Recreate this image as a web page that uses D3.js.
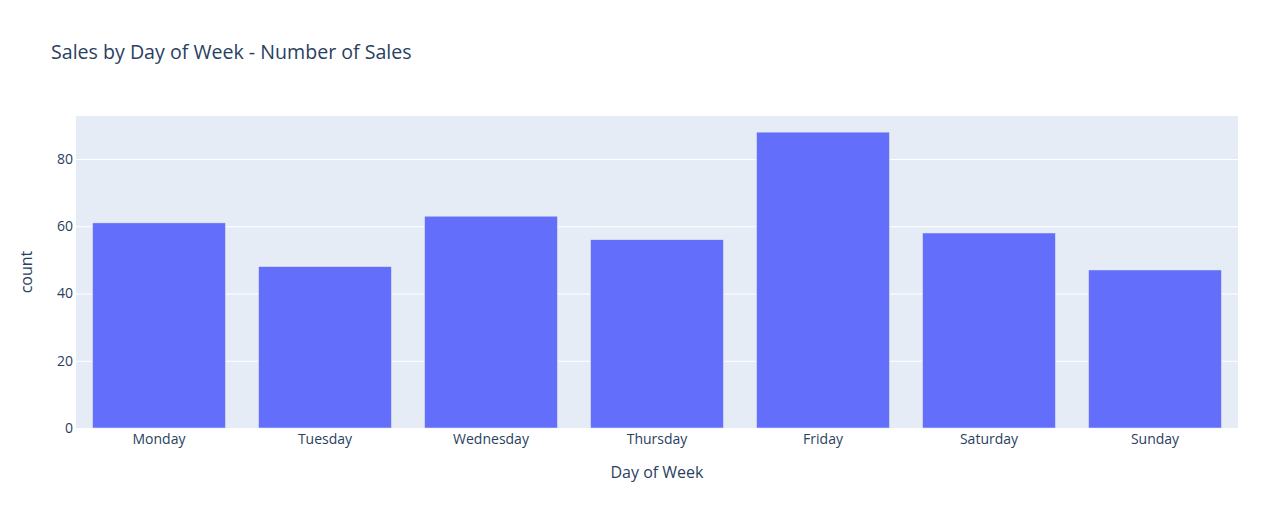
<!DOCTYPE html>
<html><head><meta charset="utf-8">
<script src="https://cdn.jsdelivr.net/npm/d3@7/dist/d3.min.js"></script>
<style>body{margin:0;background:#fff;}text{font-family:"Open Sans",sans-serif;}</style>
</head><body><div id="chart"></div>
<script>
const categories = ["Monday","Tuesday","Wednesday","Thursday","Friday","Saturday","Sunday"];
const counts = [61,48,63,56,88,58,47];
const yTicks = [0,20,40,60,80];

const W=1274,H=505;
const m={l:76,r:36,t:116,b:77};
const svg=d3.select("#chart").append("svg").attr("width",W).attr("height",H);
const pw=W-m.l-m.r, ph=H-m.t-m.b;
const x=d3.scaleBand().domain(categories).range([m.l,m.l+pw]).paddingInner(0.2).paddingOuter(0.1);
const y=d3.scaleLinear().domain([0,d3.max(counts)*1.0545]).range([m.t+ph,m.t]);

svg.append("rect").attr("x",m.l).attr("y",m.t).attr("width",pw).attr("height",ph).attr("fill","#E5ECF6");

const ya=svg.append("g").attr("transform",`translate(${m.l},0)`)
 .call(d3.axisLeft(y).tickValues(yTicks).tickSize(-pw).tickPadding(3));
ya.select(".domain").remove();
ya.selectAll(".tick line").attr("stroke","#fff").attr("stroke-width",1).attr("opacity",d=>d===0?0:1);
ya.selectAll(".tick text").attr("fill","#2a3f5f").style("font-size","14px");

svg.append("g").selectAll("rect").data(categories).join("rect")
 .attr("x",d=>x(d)).attr("width",x.bandwidth())
 .attr("y",(d,i)=>y(counts[i])).attr("height",(d,i)=>y(0)-y(counts[i]))
 .attr("fill","#636efa").attr("stroke","#E5ECF6").attr("stroke-width",0.5);

const xa=svg.append("g").attr("transform",`translate(0,${m.t+ph})`)
 .call(d3.axisBottom(x).tickSize(0).tickPadding(6));
xa.select(".domain").remove();
xa.selectAll(".tick text").attr("fill","#2a3f5f").style("font-size","14px");

svg.append("text").attr("x",51).attr("y",59).text("Sales by Day of Week - Number of Sales")
 .attr("fill","#2a3f5f").style("font-size","19.6px");
svg.append("text").attr("x",m.l+pw/2).attr("y",478).attr("text-anchor","middle").text("Day of Week")
 .attr("fill","#2a3f5f").style("font-size","16px");
svg.append("text").attr("transform",`translate(32,${m.t+ph/2}) rotate(-90)`).attr("text-anchor","middle").text("count")
 .attr("fill","#2a3f5f").style("font-size","16px");
</script></body></html>
